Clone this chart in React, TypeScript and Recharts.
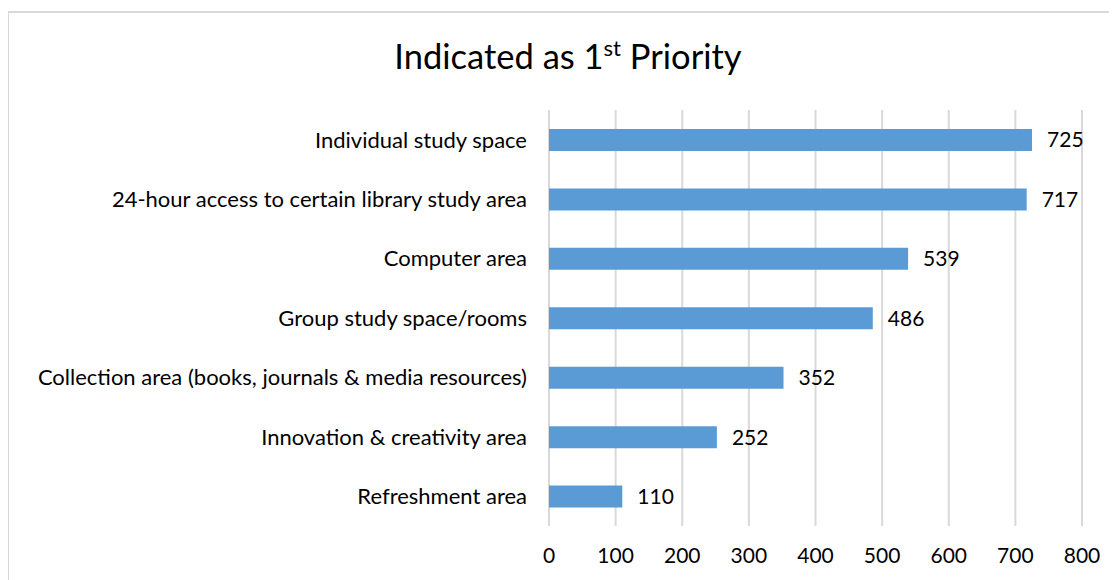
import React from "react";
import {
  BarChart,
  Bar,
  XAxis,
  YAxis,
  CartesianGrid,
  LabelList,
} from "recharts";

const categories = [
  "Individual study space",
  "24-hour access to certain library study area",
  "Computer area",
  "Group study space/rooms",
  "Collection area (books, journals & media resources)",
  "Innovation & creativity area",
  "Refreshment area",
];
const counts = [725, 717, 539, 486, 352, 252, 110];
const xTicks = [0, 100, 200, 300, 400, 500, 600, 700, 800];

const data = categories.map((name, i) => ({ name, value: counts[i] }));

const FONT = "Lato, 'Open Sans', sans-serif";

const App = () => {
  return (
    <div
      style={{
        position: "relative",
        marginLeft: -1,
        marginTop: 3,
        width: 1120,
        height: 580,
        borderTop: "2px solid #d9d9d9",
        borderLeft: "2px solid #d9d9d9",
        fontFamily: FONT,
        overflow: "hidden",
      }}
    >
      <div
        style={{
          position: "absolute",
          left: 0,
          width: 1118,
          top: 21,
          textAlign: "center",
          fontSize: 34.5,
          color: "#000",
        }}
      >
        Indicated as 1<sup style={{ fontSize: 22 }}>st</sup> Priority
      </div>
      <BarChart
        width={1105}
        height={567}
        data={data}
        layout="vertical"
        margin={{ top: 97, right: 32, left: 0, bottom: 24 }}
      >
        <CartesianGrid horizontal={false} stroke="#d9d9d9" strokeWidth={2} />
        <XAxis
          type="number"
          domain={[0, 800]}
          ticks={xTicks}
          axisLine={false}
          tickLine={false}
          tickSize={0}
          tickMargin={22}
          interval={0}
          height={30}
          tick={{ fill: "#000", fontSize: 21, fontFamily: FONT }}
        />
        <YAxis
          type="category"
          dataKey="name"
          width={540}
          axisLine={false}
          tickLine={false}
          tickSize={0}
          tickMargin={22}
          interval={0}
          tick={{ fill: "#000", fontSize: 22, fontFamily: FONT }}
        />
        <Bar dataKey="value" fill="#5b9bd5" barSize={22} isAnimationActive={false}>
          <LabelList
            dataKey="value"
            position="right"
            offset={15}
            fill="#000"
            fontSize={21}
            fontFamily={FONT}
          />
        </Bar>
      </BarChart>
    </div>
  );
};

export default App;
